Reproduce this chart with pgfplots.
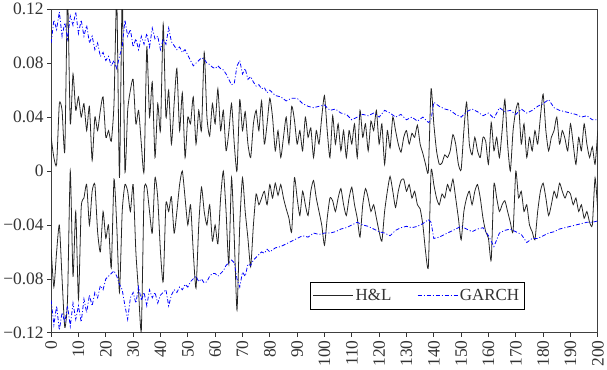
\documentclass[border=0pt]{standalone}
\usepackage{pgfplots}
\pgfplotsset{compat=1.18}
\usepackage{pgfplotstable}
\usepackage{fontspec}
\setmainfont{Liberation Serif}

\pgfplotstableread{
x y
0 0.025
1 0.010
2 0.005
3 0.050
4 0.045
5 0.015
6 0.130
7 0.035
8 0.072
9 0.045
10 0.055
11 0.040
12 0.050
13 0.030
14 0.048
15 0.008
16 0.040
17 0.030
18 0.045
19 0.055
20 0.025
21 0.030
22 0.022
23 0.050
24 0.130
25 -0.005
26 0.130
27 0.000
28 0.045
29 0.060
30 0.068
31 0.035
32 0.045
33 0.020
34 0.000
35 0.092
36 0.040
37 0.066
38 0.010
39 0.050
40 0.030
41 0.109
42 0.040
43 0.060
44 0.020
45 0.050
46 0.076
47 0.030
48 0.058
49 0.010
50 0.040
51 0.035
52 0.055
53 0.020
54 0.045
55 0.030
56 0.088
57 0.040
58 0.026
59 0.050
60 0.035
61 0.061
62 0.030
63 0.045
64 0.015
65 0.029
66 0.050
67 0.020
68 0.000
69 0.053
70 0.030
71 0.044
72 0.020
73 0.010
74 0.035
75 0.045
76 0.030
77 0.052
78 0.020
79 0.035
80 0.054
81 0.040
82 0.015
83 0.030
84 0.010
85 0.025
86 0.040
87 0.020
88 0.048
89 0.038
90 0.020
91 0.030
92 0.015
93 0.040
94 0.025
95 0.032
96 0.010
97 0.030
98 0.020
99 0.040
100 0.056
101 0.030
102 0.010
103 0.041
104 0.020
105 0.035
106 0.015
107 0.030
108 0.010
109 0.030
110 0.020
111 0.035
112 0.010
113 0.045
114 0.025
115 0.035
116 0.015
117 0.037
118 0.030
119 0.045
120 0.020
121 0.035
122 0.005
123 0.030
124 0.017
125 0.040
126 0.030
127 0.020
128 0.014
129 0.025
130 0.030
131 0.020
132 0.028
133 0.025
134 0.034
135 0.020
136 0.013
137 0.005
138 0.000
139 0.061
140 0.035
141 0.015
142 0.005
143 0.006
144 0.012
145 0.010
146 0.015
147 0.027
148 0.020
149 0.005
150 0.001
151 0.030
152 0.051
153 0.020
154 0.012
155 0.025
156 0.015
157 0.010
158 0.025
159 0.022
160 0.005
161 0.036
162 0.015
163 0.025
164 0.010
165 0.030
166 0.053
167 0.020
168 0.000
169 0.030
170 0.045
171 0.050
172 0.020
173 0.035
174 0.010
175 0.025
176 0.015
177 0.030
178 0.020
179 0.040
180 0.057
181 0.030
182 0.015
183 0.025
184 0.030
185 0.040
186 0.020
187 0.030
188 0.024
189 0.015
190 0.035
191 0.020
192 0.005
193 0.025
194 0.015
195 0.035
196 0.020
197 0.010
198 0.018
199 0.005
200 0.030
}\upperHL

\pgfplotstableread{
x y
0 -0.058
1 -0.086
2 -0.060
3 -0.040
4 -0.080
5 -0.116
6 -0.095
7 0.000
8 -0.078
9 -0.030
10 -0.095
11 -0.027
12 -0.020
13 -0.010
14 -0.040
15 -0.015
16 -0.010
17 -0.045
18 -0.060
19 -0.030
20 -0.050
21 -0.040
22 -0.072
23 -0.006
24 -0.040
25 -0.090
26 -0.030
27 -0.010
28 -0.015
29 -0.030
30 -0.010
31 -0.060
32 -0.090
33 -0.118
34 -0.016
35 -0.012
36 -0.030
37 -0.046
38 -0.005
39 -0.020
40 -0.060
41 -0.082
42 -0.024
43 -0.030
44 -0.019
45 -0.046
46 -0.030
47 -0.010
48 0.000
49 -0.020
50 -0.040
51 -0.025
52 -0.060
53 -0.087
54 -0.040
55 -0.012
56 -0.030
57 -0.040
58 -0.025
59 -0.052
60 -0.040
61 -0.054
62 -0.020
63 0.000
64 -0.030
65 -0.069
66 -0.005
67 -0.050
68 -0.103
69 -0.040
70 -0.005
71 -0.030
72 -0.050
73 -0.071
74 -0.040
75 -0.017
76 -0.025
77 -0.020
78 -0.015
79 -0.025
80 -0.010
81 -0.020
82 -0.009
83 -0.018
84 -0.010
85 -0.020
86 -0.028
87 -0.035
88 -0.045
89 -0.005
90 -0.020
91 -0.033
92 -0.015
93 -0.025
94 -0.033
95 -0.015
96 -0.007
97 -0.020
98 -0.030
99 -0.040
100 -0.055
101 -0.035
102 -0.020
103 -0.022
104 -0.030
105 -0.020
106 -0.013
107 -0.025
108 -0.033
109 -0.020
110 -0.012
111 -0.025
112 -0.035
113 -0.049
114 -0.025
115 -0.013
116 -0.020
117 -0.030
118 -0.025
119 -0.035
120 -0.045
121 -0.052
122 -0.030
123 -0.015
124 -0.004
125 -0.015
126 -0.027
127 -0.015
128 -0.007
129 -0.006
130 -0.015
131 -0.010
132 -0.020
133 -0.015
134 -0.025
135 -0.028
136 -0.040
137 -0.060
138 -0.071
139 0.000
140 -0.010
141 -0.020
142 -0.025
143 -0.017
144 -0.020
145 -0.010
146 -0.015
147 -0.006
148 -0.020
149 -0.035
150 -0.051
151 -0.030
152 -0.020
153 -0.015
154 -0.025
155 -0.015
156 -0.010
157 -0.020
158 -0.035
159 -0.045
160 -0.050
161 -0.066
162 -0.010
163 -0.020
164 -0.030
165 -0.025
166 -0.022
167 -0.030
168 -0.038
169 -0.045
170 0.000
171 -0.020
172 -0.015
173 -0.030
174 -0.025
175 -0.040
176 -0.045
177 -0.051
178 -0.030
179 -0.015
180 -0.009
181 -0.020
182 -0.033
183 -0.025
184 -0.015
185 -0.020
186 -0.009
187 -0.015
188 -0.020
189 -0.015
190 -0.017
191 -0.025
192 -0.020
193 -0.030
194 -0.025
195 -0.035
196 -0.030
197 -0.038
198 -0.040
199 -0.005
200 -0.030
}\lowerHL

\pgfplotstableread{
x y
0 0.095
1 0.112
2 0.105
3 0.118
4 0.100
5 0.110
6 0.098
7 0.115
8 0.108
9 0.118
10 0.102
11 0.112
12 0.100
13 0.108
14 0.095
15 0.100
16 0.090
17 0.095
18 0.085
19 0.088
20 0.082
21 0.085
22 0.078
23 0.082
24 0.076
25 0.085
26 0.092
27 0.112
28 0.100
29 0.105
30 0.092
31 0.098
32 0.090
33 0.100
34 0.094
35 0.102
36 0.092
37 0.106
38 0.098
39 0.100
40 0.090
41 0.098
42 0.094
43 0.106
44 0.096
45 0.093
46 0.090
47 0.092
48 0.088
49 0.090
50 0.086
51 0.082
52 0.078
53 0.080
54 0.082
55 0.084
56 0.083
57 0.080
58 0.079
59 0.077
60 0.076
61 0.078
62 0.076
63 0.075
64 0.072
65 0.068
66 0.064
67 0.065
68 0.078
69 0.082
70 0.072
71 0.076
72 0.068
73 0.070
74 0.066
75 0.063
76 0.064
77 0.061
78 0.062
79 0.058
80 0.060
82 0.056
84 0.055
86 0.052
88 0.054
90 0.054
92 0.050
94 0.048
96 0.047
98 0.048
100 0.049
102 0.045
104 0.046
106 0.043
108 0.042
110 0.038
112 0.040
114 0.042
116 0.041
118 0.043
120 0.040
122 0.045
124 0.043
126 0.040
128 0.042
130 0.038
132 0.040
134 0.037
136 0.040
138 0.036
139 0.038
140 0.051
142 0.048
144 0.046
146 0.045
148 0.042
150 0.040
152 0.044
154 0.046
156 0.044
158 0.041
160 0.043
162 0.039
164 0.047
166 0.044
168 0.045
170 0.042
172 0.046
174 0.043
176 0.045
178 0.048
180 0.050
182 0.053
184 0.047
186 0.045
188 0.044
190 0.043
192 0.042
194 0.040
196 0.041
198 0.038
200 0.038
}\upperG

\pgfplotstableread{
x y
0 -0.096
1 -0.114
2 -0.100
3 -0.118
4 -0.105
5 -0.112
6 -0.100
7 -0.115
8 -0.098
9 -0.110
10 -0.100
11 -0.112
12 -0.095
13 -0.105
14 -0.092
15 -0.100
16 -0.090
17 -0.094
18 -0.085
19 -0.088
20 -0.080
21 -0.078
22 -0.076
23 -0.074
24 -0.078
25 -0.084
26 -0.088
27 -0.100
28 -0.110
29 -0.094
30 -0.090
31 -0.098
32 -0.086
33 -0.096
34 -0.090
35 -0.100
36 -0.088
37 -0.094
38 -0.090
39 -0.098
40 -0.092
41 -0.090
42 -0.088
43 -0.100
44 -0.092
45 -0.088
46 -0.090
47 -0.086
48 -0.088
49 -0.084
50 -0.086
51 -0.082
52 -0.080
53 -0.078
54 -0.082
55 -0.080
56 -0.083
57 -0.082
58 -0.078
59 -0.076
60 -0.076
61 -0.078
62 -0.076
63 -0.074
64 -0.070
65 -0.068
66 -0.066
67 -0.068
68 -0.080
69 -0.086
70 -0.075
71 -0.078
72 -0.069
73 -0.070
74 -0.066
75 -0.064
76 -0.062
77 -0.060
78 -0.061
79 -0.058
80 -0.060
82 -0.057
84 -0.056
86 -0.054
88 -0.052
90 -0.050
92 -0.048
94 -0.049
96 -0.046
98 -0.047
100 -0.046
102 -0.046
104 -0.045
106 -0.043
108 -0.042
110 -0.040
112 -0.038
114 -0.040
116 -0.041
118 -0.043
120 -0.045
122 -0.046
124 -0.048
126 -0.044
128 -0.042
130 -0.041
132 -0.042
134 -0.041
136 -0.039
138 -0.036
139 -0.038
140 -0.050
142 -0.049
144 -0.047
146 -0.045
148 -0.043
150 -0.041
152 -0.043
154 -0.045
156 -0.043
158 -0.042
160 -0.048
162 -0.056
164 -0.046
166 -0.044
168 -0.043
170 -0.045
172 -0.047
174 -0.053
176 -0.050
178 -0.050
180 -0.048
182 -0.046
184 -0.045
186 -0.043
188 -0.042
190 -0.041
192 -0.040
194 -0.039
196 -0.038
198 -0.038
200 -0.037
}\lowerG

\begin{document}
\begin{tikzpicture}
\begin{axis}[
  scale only axis,
  width=549pt, height=325pt,
  xmin=0, xmax=200, ymin=-0.12, ymax=0.12,
  xtick={0,10,...,200},
  ytick={-0.12,-0.08,-0.04,0,0.04,0.08,0.12},
  yticklabels={−0.12,−0.08,−0.04,0,0.04,0.08,0.12},
  /pgf/number format/assume math mode=true,
  x tick label style={rotate=90, anchor=east, font=\fontsize{17.5}{17.5}\selectfont, text=black!80},
  y tick label style={font=\fontsize{17.5}{17.5}\selectfont, text=black!80},
  tick align=outside,
  tick pos=left,
  major tick length=4pt,
  axis line style={black!75, line width=1.2pt},
  every tick/.style={black!80, line width=0.8pt},
  clip=true,
  legend columns=2,
  legend cell align=left,
  legend style={at={(0.866,0.072)}, anchor=south east, draw=black, line width=0.8pt,
    font=\fontsize{17}{17}\selectfont, text=black!80, inner xsep=3pt, inner ysep=5pt,
    /tikz/every even column/.append style={column sep=24pt}},
  legend image code/.code={\draw[#1] (0pt,0pt) -- (40pt,0pt);},
]
\addplot[black!85, line width=0.8pt, smooth, tension=0.35] table {\upperHL};
\addlegendentry{H\&L}
\addplot[blue, line width=0.8pt, dash pattern=on 4pt off 2pt on 1pt off 2pt] table {\upperG};
\addlegendentry{GARCH}
\addplot[black!85, line width=0.8pt, smooth, tension=0.35, forget plot] table {\lowerHL};
\addplot[blue, line width=0.8pt, dash pattern=on 4pt off 2pt on 1pt off 2pt, forget plot] table {\lowerG};
\end{axis}
\end{tikzpicture}
\end{document}
